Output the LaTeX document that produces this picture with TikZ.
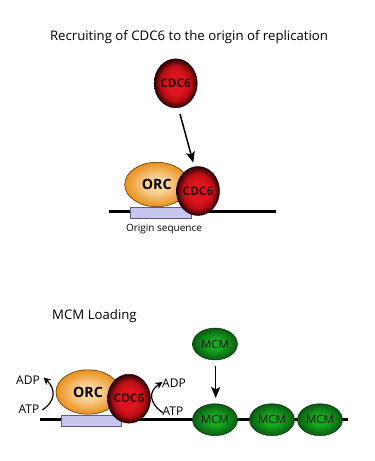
\documentclass[tikz,border=0pt]{standalone}
\usepackage{fontspec}
\setmainfont{Open Sans}
\usetikzlibrary{shapes.geometric,arrows.meta}
\definecolor{cdcred}{HTML}{DC141C}
\definecolor{cdcmid}{HTML}{B80E14}
\definecolor{orclight}{HTML}{FBD49A}
\definecolor{orcdark}{HTML}{E8901C}
\definecolor{mcmlight}{HTML}{14A81E}
\definecolor{mcmdark}{HTML}{0A5A12}
\definecolor{boxfill}{HTML}{C6C6F0}
\definecolor{boxline}{HTML}{5A5A90}
\pgfdeclareradialshading{cdcball}{\pgfpointorigin}{color(0bp)=(cdcred); color(11bp)=(cdcred); color(18bp)=(cdcmid); color(27bp)=(black); color(100bp)=(black)}
\pgfdeclareradialshading{orcball}{\pgfpointorigin}{color(0bp)=(orclight); color(8bp)=(orclight); color(25bp)=(orcdark); color(100bp)=(orcdark)}
\pgfdeclareradialshading{mcmball}{\pgfpointorigin}{color(0bp)=(mcmlight); color(9bp)=(mcmlight); color(25bp)=(mcmdark); color(100bp)=(mcmdark)}
\tikzset{
  cdc/.style={ellipse,inner sep=0pt,minimum width=41pt,minimum height=49pt,shading=cdcball,draw=black,line width=0.4pt,
    text=black!80!cdcred,font=\fontsize{11.8}{12}\selectfont\bfseries},
  orc/.style={ellipse,inner sep=0pt,minimum width=64pt,minimum height=44.5pt,shading=orcball,draw=black!70!orcdark,line width=0.5pt,
    font=\fontsize{14.2}{15}\selectfont\bfseries},
  mcm/.style={ellipse,inner sep=0pt,minimum width=45pt,minimum height=32pt,shading=mcmball,draw=black!60!mcmdark,line width=0.4pt,
    text=black!85!mcmdark,font=\fontsize{11.4}{12}\selectfont},
  origin/.style={rectangle,inner sep=0pt,minimum width=60.5pt,minimum height=11pt,fill=boxfill,draw=boxline,line width=0.5pt},
  dna/.style={line width=2.7pt,black},
  heading/.style={inner sep=0pt,font=\fontsize{13.2}{14}\selectfont},
  small/.style={inner sep=0pt,font=\fontsize{10}{12}\selectfont},
  nucleotide/.style={inner sep=0pt,font=\fontsize{12}{12}\selectfont},
  bigarrow/.style={line width=1.5pt,-{Stealth[length=11pt,width=9pt,inset=2.5pt]}},
  turn/.style={line width=1.2pt,-{Stealth[length=7pt,width=7pt,inset=2pt]}}
}
\begin{document}
\begin{tikzpicture}[x=1pt,y=-1pt]
\useasboundingbox[fill=white] (0,0) rectangle (375,461);

% Upper panel: CDC6 joins ORC at the origin
\node[heading] (title) at (189,37) {Recruiting of CDC6 to the origin of replication};
\coordinate (dnaAl) at (109,211.7);
\coordinate (dnaAr) at (276,211.7);
\draw[dna] (dnaAl) -- (dnaAr);
\node[origin] (siteA) at (160.5,212.8) {};
\node[orc] (orcA) at (156.7,184.5) {ORC};
\node[cdc] (cdcA) at (198,191) {CDC6};
\node[cdc] (cdcFree) at (175.7,83.3) {CDC6};
\node[small] (siteLabel) at (164,229.5) {Origin sequence};
\coordinate (dropStart) at (180,114);
\coordinate (dropEnd) at (193.3,162.7);
\draw[bigarrow] (dropStart) -- (dropEnd);

% Lower panel: MCM loading
\node[heading,anchor=west] (mcmTitle) at (52,316) {MCM Loading};
\coordinate (dnaBl) at (40,419.5);
\coordinate (dnaBr) at (347.7,419.5);
\draw[dna] (dnaBl) -- (dnaBr);
\node[origin] (siteB) at (91.3,420.6) {};
\node[orc] (orcB) at (88,392) {ORC};
\node[cdc] (cdcB) at (129,398.7) {CDC6};
\node[mcm] (mcmFree) at (215,344) {MCM};
\node[mcm] (mcmOne) at (215,419.7) {MCM};
\node[mcm] (mcmTwo) at (272,419.7) {MCM};
\node[mcm] (mcmThree) at (320,419.7) {MCM};
\coordinate (loadStart) at (215.7,366);
\coordinate (loadEnd) at (215.7,398);
\draw[bigarrow] (loadStart) -- (loadEnd);

% ATP turnover on either side of the complex
\node[nucleotide] (adpL) at (28,380.5) {ADP};
\node[nucleotide] (atpL) at (29,409.5) {ATP};
\node[nucleotide] (adpR) at (174,383.5) {ADP};
\node[nucleotide] (atpR) at (173,411.5) {ATP};
\coordinate (turnLa) at (42.3,410);
\coordinate (turnLb) at (43.5,377.5);
\coordinate (turnRa) at (163,413);
\coordinate (turnRb) at (162.5,382);
\draw[turn] (turnLa) .. controls (57,400) and (55,388) .. (turnLb);
\draw[turn] (turnRa) .. controls (148,402) and (149,391) .. (turnRb);
\end{tikzpicture}
\end{document}
